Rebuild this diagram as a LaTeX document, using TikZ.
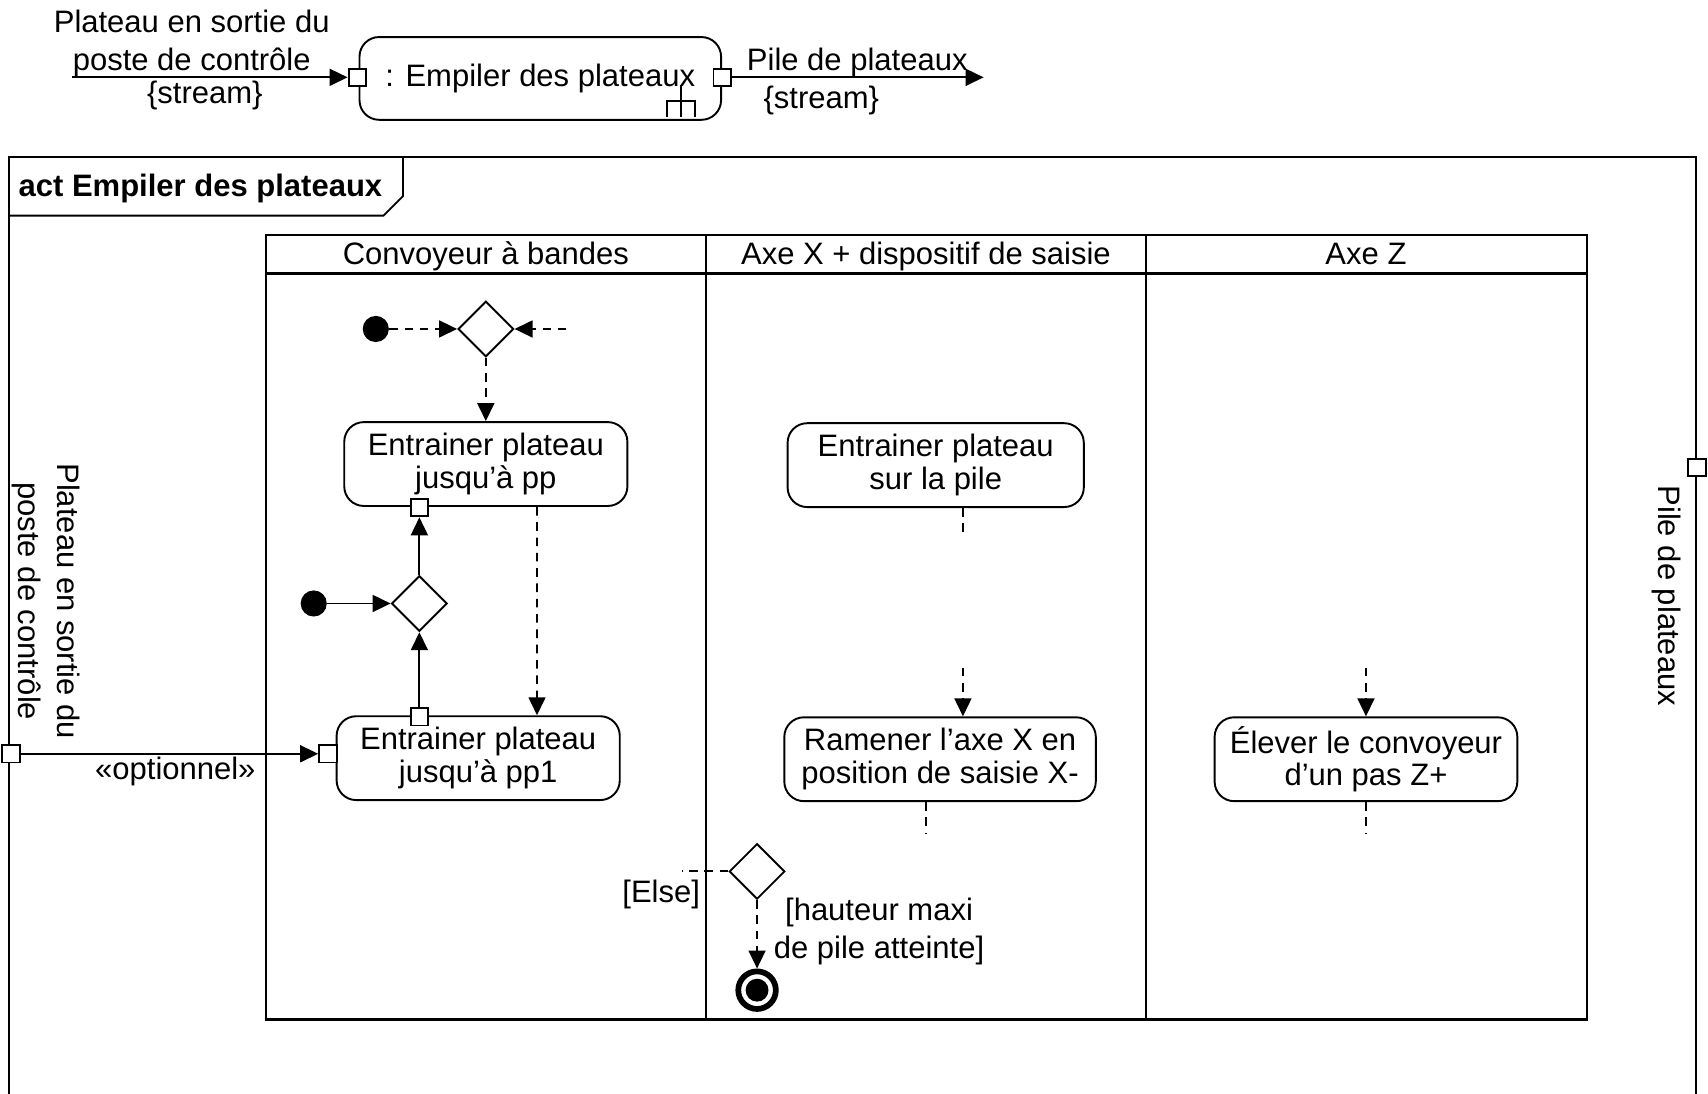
\documentclass[tikz,border=0pt]{standalone}
\usepackage{fontspec}
\setmainfont{Liberation Sans}
\usepackage{tikz}
\usetikzlibrary{shapes.geometric, arrows.meta, positioning, calc}
\usepackage{xcolor}
\definecolor{DiagBlack}{HTML}{000000}
\definecolor{DiagWhite}{HTML}{ffffff}
\newcommand{\diagfont}{\fontsize{16.2}{17}\selectfont}
\tikzset{
    % Node styles
    actionbox/.style={
        rectangle,
        rounded corners=0.36cm,
        draw=DiagBlack,
        fill=DiagWhite,
        line width=1pt,
        minimum height=1.54cm,
        align=center,
        font=\diagfont
    },
    pinbox/.style={
        rectangle,
        draw=DiagBlack,
        fill=DiagWhite,
        line width=1pt,
        minimum width=0.32cm,
        minimum height=0.32cm,
        inner sep=0pt
    },
    initnode/.style={
        circle,
        fill=DiagBlack,
        minimum size=0.48cm,
        inner sep=0pt
    },
    decisionnode/.style={
        diamond,
        aspect=1,
        draw=DiagBlack,
        fill=DiagWhite,
        line width=1pt,
        minimum width=1.02cm,
        minimum height=1.02cm,
        inner sep=0pt
    },
    finalnode/.style={
        circle,
        draw=DiagBlack,
        line width=3pt,
        minimum size=0.69cm,
        inner sep=0pt,
        path picture={\fill[DiagBlack] (path picture bounding box.center) circle (0.21cm);}
    },
    labeltext/.style={
        inner sep=1pt,
        align=center,
        font=\diagfont
    },
    lanehead/.style={
        labeltext,
        anchor=base
    },
    % Arrow styles
    flowarrow/.style={
        ->,
        >={Triangle[length=3.3mm,width=3.1mm]},
        line width=1pt,
        DiagBlack
    },
    dashedarrow/.style={
        flowarrow,
        dash pattern=on 4.5pt off 3.5pt
    },
    dashedline/.style={
        line width=1pt,
        DiagBlack,
        dash pattern=on 4.5pt off 3.5pt
    },
    solidline/.style={
        line width=1pt,
        DiagBlack
    },
    % Frame styles
    framebox/.style={
        line width=1pt,
        DiagBlack
    },
    lanebox/.style={
        line width=1.2pt,
        DiagBlack
    }
}

\begin{document}
\begin{tikzpicture}[x=0.02cm, y=-0.02cm]
    \useasboundingbox (0,0) rectangle (1568,1004);

    % Call behaviour action
    \node[actionbox,minimum width=6.64cm,minimum height=1.52cm] (callact) at (496,72) {: Empiler des plateaux};
    \node[pinbox] (callin) at (328,71) {};
    \node[pinbox] (callout) at (663,71) {};
    \coordinate (callsrc) at (66,71);
    \coordinate (calldst) at (903,71);
    \draw[flowarrow] (callsrc) -- (callin.west);
    \draw[flowarrow] (callout.east) -- (calldst);
    \draw[solidline] (625,78) -- (625,107) (612,107) -- (612,93) -- (638,93) -- (638,107);

    % Call labels
    \node[labeltext,font=\fontsize{16.2}{20}\selectfont] (callinlbl) at (176,40) {Plateau en sortie du\\poste de contrôle};
    \node[labeltext] (callinstream) at (188,88) {\{stream\}};
    \node[labeltext] (calloutlbl) at (787,57) {Pile de plateaux};
    \node[labeltext] (calloutstream) at (754,92) {\{stream\}};

    % Activity frame
    \draw[framebox] (8,1004) -- (8,144) -- (1557,144) -- (1557,1004);
    \draw[framebox] (8,198) -- (352,198) -- (370,180) -- (370,144);
    \node[labeltext,font=\diagfont\bfseries,anchor=west] (acttitle) at (15,173) {act Empiler des plateaux};

    % Swimlanes
    \draw[lanebox] (244,216) rectangle (1457,936);
    \draw[lanebox] (244,251) -- (1457,251);
    \draw[lanebox] (648,216) -- (648,936);
    \draw[lanebox] (1052,216) -- (1052,936);
    \node[lanehead] (lane1) at (446,243) {Convoyeur à bandes};
    \node[lanehead] (lane2) at (850,243) {Axe X + dispositif de saisie};
    \node[lanehead] (lane3) at (1254,243) {Axe Z};

    % Convoyeur a bandes
    \node[initnode] (start1) at (345,302) {};
    \node[decisionnode] (merge1) at (446,302) {};
    \coordinate (loopin) at (520,302);
    \node[actionbox,minimum width=5.2cm] (movepp) at (446,426) {Entrainer plateau\\jusqu’à pp};
    \node[pinbox] (ppout) at (385,466) {};
    \node[initnode] (start2) at (288,554) {};
    \node[decisionnode] (merge2) at (385,554) {};
    \node[actionbox,minimum width=5.2cm] (movepp1) at (439,696) {Entrainer plateau\\jusqu’à pp1};
    \node[pinbox] (pp1top) at (385,658) {};
    \node[pinbox] (pp1in) at (301,692) {};

    \draw[dashedarrow] (start1) -- (merge1);
    \draw[dashedarrow] (loopin) -- (merge1.east);
    \draw[dashedarrow] (merge1) -- (movepp);
    \draw[dashedarrow] ([xshift=0.94cm]movepp.south) -- ([xshift=1.08cm]movepp1.north);
    \draw[flowarrow] (start2) -- (merge2);
    \draw[flowarrow] (merge2) -- (ppout);
    \draw[flowarrow] (pp1top) -- (merge2);

    % Frame parameters
    \node[pinbox] (framein) at (10,692) {};
    \draw[flowarrow] (framein) -- (pp1in) node[labeltext,pos=0.52,below] (optlbl) {«optionnel»};
    \node[labeltext,rotate=-90,font=\fontsize{16.2}{20.5}\selectfont] (frameinlbl) at (42,552) {Plateau en sortie du\\poste de contrôle};
    \node[pinbox] (frameout) at (1558,429) {};
    \node[labeltext,rotate=-90] (frameoutlbl) at (1530,547) {Pile de plateaux};

    % Axe X + dispositif de saisie
    \node[actionbox,minimum width=5.44cm] (movepile) at (859,427) {Entrainer plateau\\sur la pile};
    \coordinate (pileout) at (884,490);
    \draw[dashedline] (movepile.south -| pileout) -- (pileout);
    \coordinate (xin) at (884,613);
    \node[actionbox,minimum width=5.72cm] (backx) at (863,697) {Ramener l’axe X en\\position de saisie X-};
    \draw[dashedarrow] (xin) -- (xin |- backx.north);
    \coordinate (xout) at (850,765);
    \draw[dashedline] (backx.south -| xout) -- (xout);
    \node[decisionnode] (choice) at (695,800) {};
    \coordinate (elseout) at (626,800);
    \draw[dashedline] (choice) -- (elseout);
    \node[labeltext] (elselbl) at (607,821) {[Else]};
    \node[finalnode] (stop) at (695,909) {};
    \draw[dashedarrow] (choice) -- (stop);
    \node[labeltext,font=\fontsize{16.2}{20}\selectfont] (guardlbl) at (807,855) {[hauteur maxi\\de pile atteinte]};

    % Axe Z
    \coordinate (zin) at (1254,613);
    \node[actionbox,minimum width=5.56cm] (raisez) at (1254,697) {Élever le convoyeur\\d’un pas Z+};
    \draw[dashedarrow] (zin) -- (zin |- raisez.north);
    \coordinate (zout) at (1254,765);
    \draw[dashedline] (raisez.south -| zout) -- (zout);
\end{tikzpicture}
\end{document}
